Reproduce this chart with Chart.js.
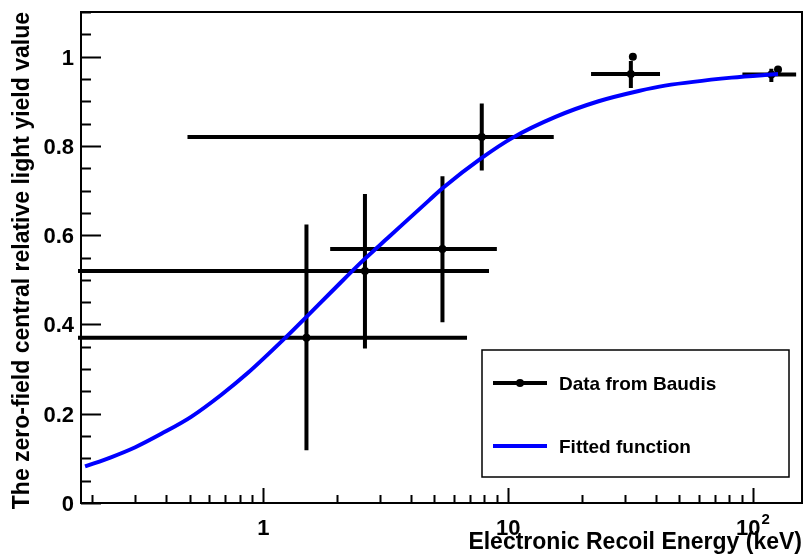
<!DOCTYPE html>
<html>
<head>
<meta charset="utf-8">
<script src="https://cdn.jsdelivr.net/npm/chart.js@4.4.1/dist/chart.umd.min.js"></script>
<style>
    html, body { margin: 0; padding: 0; background: #fff; }
    #wrap { width: 806px; height: 554px; }
</style>
</head>
<body>
<div id="wrap"><canvas id="grafico" width="806" height="554"></canvas></div>
<script>
// Pontos medidos (Baudis) com barras de erro assimétricas
const pontosX = [1.5, 2.6, 5.39, 7.8, 31.7, 118.8];
const pontosY = [0.37, 0.52, 0.569, 0.82, 0.961, 0.96];
const erroXMin = [0.1, 0.1, 1.875, 0.49, 21.8, 90.5];
const erroXMax = [6.79, 8.35, 8.99, 15.35, 41.7, 150];
const erroYMin = [0.118, 0.346, 0.405, 0.745, 0.93, 0.943];
const erroYMax = [0.624, 0.692, 0.732, 0.895, 0.99, 0.973];

// marcadores extras sem barra
const extraX = [32.3, 126.5];
const extraY = [1.0, 0.971];

// curva ajustada
const curvaX = [0.187, 0.24, 0.30, 0.383, 0.507, 0.672, 0.863, 1.24, 1.5, 1.92, 2.55, 3.27, 4.75, 5.39, 7.8, 10.4, 15.6, 23.4, 34.1, 43.7, 81.7, 126.5];
const curvaY = [0.082, 0.103, 0.125, 0.155, 0.193, 0.242, 0.291, 0.372, 0.417, 0.476, 0.543, 0.597, 0.678, 0.705, 0.773, 0.818, 0.865, 0.900, 0.923, 0.935, 0.953, 0.961];

// eixos
const xMin = 0.18, xMax = 158.5;
const yMin = 0, yMax = 1.1;
const xTicks = [1, 10, 100];
const xTickTexto = ['1', '10', '10'];
const xTickExpoente = ['', '', '2'];
const yTicks = [0, 0.2, 0.4, 0.6, 0.8, 1];
const yTickTexto = ['0', '0.2', '0.4', '0.6', '0.8', '1'];

const tituloX = 'Electronic Recoil Energy (keV)';
const tituloY = 'The zero-field central relative light yield value';
const legendaTextos = ['Data from Baudis', 'Fitted function'];

const FONTE = '"Liberation Sans", Arial, Helvetica, sans-serif';

function juntar(xs, ys) {
    return xs.map((v, i) => ({ x: v, y: ys[i] }));
}

const pluginRoot = {
    id: 'pluginRoot',
    beforeDatasetsDraw(chart) {
        // barras de erro
        const ctx = chart.ctx;
        const a = chart.chartArea;
        const sx = chart.scales.x, sy = chart.scales.y;
        ctx.save();
        ctx.beginPath();
        ctx.rect(a.left - 3, a.top, a.right - a.left + 3, a.bottom - a.top);
        ctx.clip();
        ctx.strokeStyle = '#000';
        ctx.lineWidth = 4;
        ctx.beginPath();
        for (let i = 0; i < pontosX.length; i++) {
            const px = sx.getPixelForValue(pontosX[i]);
            const py = sy.getPixelForValue(pontosY[i]);
            ctx.moveTo(sx.getPixelForValue(erroXMin[i]), py);
            ctx.lineTo(sx.getPixelForValue(erroXMax[i]), py);
            ctx.moveTo(px, sy.getPixelForValue(erroYMin[i]));
            ctx.lineTo(px, sy.getPixelForValue(erroYMax[i]));
        }
        ctx.stroke();
        ctx.restore();
    },
    afterDatasetsDraw(chart) {
        const ctx = chart.ctx;
        const a = chart.chartArea;
        const sx = chart.scales.x, sy = chart.scales.y;
        ctx.save();
        ctx.strokeStyle = '#000';
        ctx.fillStyle = '#000';
        ctx.lineWidth = 2;

        // marcas do eixo x (log)
        ctx.beginPath();
        for (let d = -1; d <= 2; d++) {
            for (let m = 1; m <= 9; m++) {
                const v = m * Math.pow(10, d);
                if (v < xMin || v > xMax) continue;
                const px = Math.round(sx.getPixelForValue(v)) + 0.5;
                const len = m === 1 ? 15 : 8;
                ctx.moveTo(px, a.bottom);
                ctx.lineTo(px, a.bottom - len);
            }
        }
        // marcas do eixo y
        for (let i = 0; i <= 22; i++) {
            const py = Math.round(sy.getPixelForValue(i * 0.05)) + 0.5;
            const len = i % 4 === 0 ? 20 : 10;
            ctx.moveTo(a.left, py);
            ctx.lineTo(a.left + len, py);
        }
        ctx.stroke();

        // moldura
        ctx.strokeRect(a.left, a.top, a.right - a.left, a.bottom - a.top);

        // rótulos y
        ctx.font = 'bold 22px ' + FONTE;
        ctx.textAlign = 'right';
        ctx.textBaseline = 'alphabetic';
        yTicks.forEach((v, i) => {
            ctx.fillText(yTickTexto[i], 74, sy.getPixelForValue(v) + 8);
        });

        // rótulos x
        xTicks.forEach((v, i) => {
            const px = sx.getPixelForValue(v);
            ctx.font = 'bold 22px ' + FONTE;
            const w1 = ctx.measureText(xTickTexto[i]).width;
            let w2 = 0;
            if (xTickExpoente[i]) {
                ctx.font = 'bold 15px ' + FONTE;
                w2 = ctx.measureText(xTickExpoente[i]).width + 1;
            }
            const x0 = px - (w1 + w2) / 2;
            ctx.textAlign = 'left';
            ctx.font = 'bold 22px ' + FONTE;
            ctx.fillText(xTickTexto[i], x0, 535);
            if (xTickExpoente[i]) {
                ctx.font = 'bold 15px ' + FONTE;
                ctx.fillText(xTickExpoente[i], x0 + w1 + 1, 524);
            }
        });

        // títulos
        ctx.font = 'bold 23px ' + FONTE;
        ctx.textAlign = 'right';
        ctx.fillText(tituloX, a.right, 549);
        ctx.save();
        ctx.translate(29, a.top);
        ctx.rotate(-Math.PI / 2);
        ctx.textAlign = 'right';
        ctx.fillText(tituloY, 0, 0);
        ctx.restore();

        // legenda
        const lx = 482, ly = 350, lw = 307, lh = 127;
        ctx.fillStyle = '#fff';
        ctx.fillRect(lx, ly, lw, lh);
        ctx.lineWidth = 1.5;
        ctx.strokeStyle = '#000';
        ctx.strokeRect(lx, ly, lw, lh);

        ctx.lineWidth = 4;
        ctx.beginPath();
        ctx.moveTo(493, 383);
        ctx.lineTo(547, 383);
        ctx.stroke();
        ctx.fillStyle = '#000';
        ctx.beginPath();
        ctx.arc(520, 383, 4, 0, Math.PI * 2);
        ctx.fill();

        ctx.strokeStyle = '#0000ff';
        ctx.beginPath();
        ctx.moveTo(493, 446);
        ctx.lineTo(547, 446);
        ctx.stroke();

        ctx.fillStyle = '#000';
        ctx.font = 'bold 19px ' + FONTE;
        ctx.textAlign = 'left';
        ctx.fillText(legendaTextos[0], 559, 390);
        ctx.fillText(legendaTextos[1], 559, 453);

        ctx.restore();
    }
};

new Chart(document.getElementById('grafico'), {
    type: 'scatter',
    data: {
        datasets: [
            {
                type: 'line',
                label: legendaTextos[1],
                data: juntar(curvaX, curvaY),
                borderColor: '#0000ff',
                borderWidth: 4,
                pointRadius: 0,
                fill: false,
                cubicInterpolationMode: 'monotone'
            },
            {
                label: legendaTextos[0],
                data: juntar(pontosX, pontosY),
                pointRadius: 4,
                pointBackgroundColor: '#000',
                pointBorderWidth: 0,
                showLine: false
            },
            {
                label: 'extra',
                data: juntar(extraX, extraY),
                pointRadius: 4,
                pointBackgroundColor: '#000',
                pointBorderWidth: 0,
                showLine: false
            }
        ]
    },
    options: {
        responsive: false,
        animation: false,
        devicePixelRatio: 1,
        layout: { padding: { left: 81, top: 12, right: 2, bottom: 51 } },
        plugins: {
            legend: { display: false },
            tooltip: { enabled: false }
        },
        scales: {
            x: { type: 'logarithmic', min: xMin, max: xMax, display: false },
            y: { type: 'linear', min: yMin, max: yMax, display: false }
        }
    },
    plugins: [pluginRoot]
});
</script>
</body>
</html>
